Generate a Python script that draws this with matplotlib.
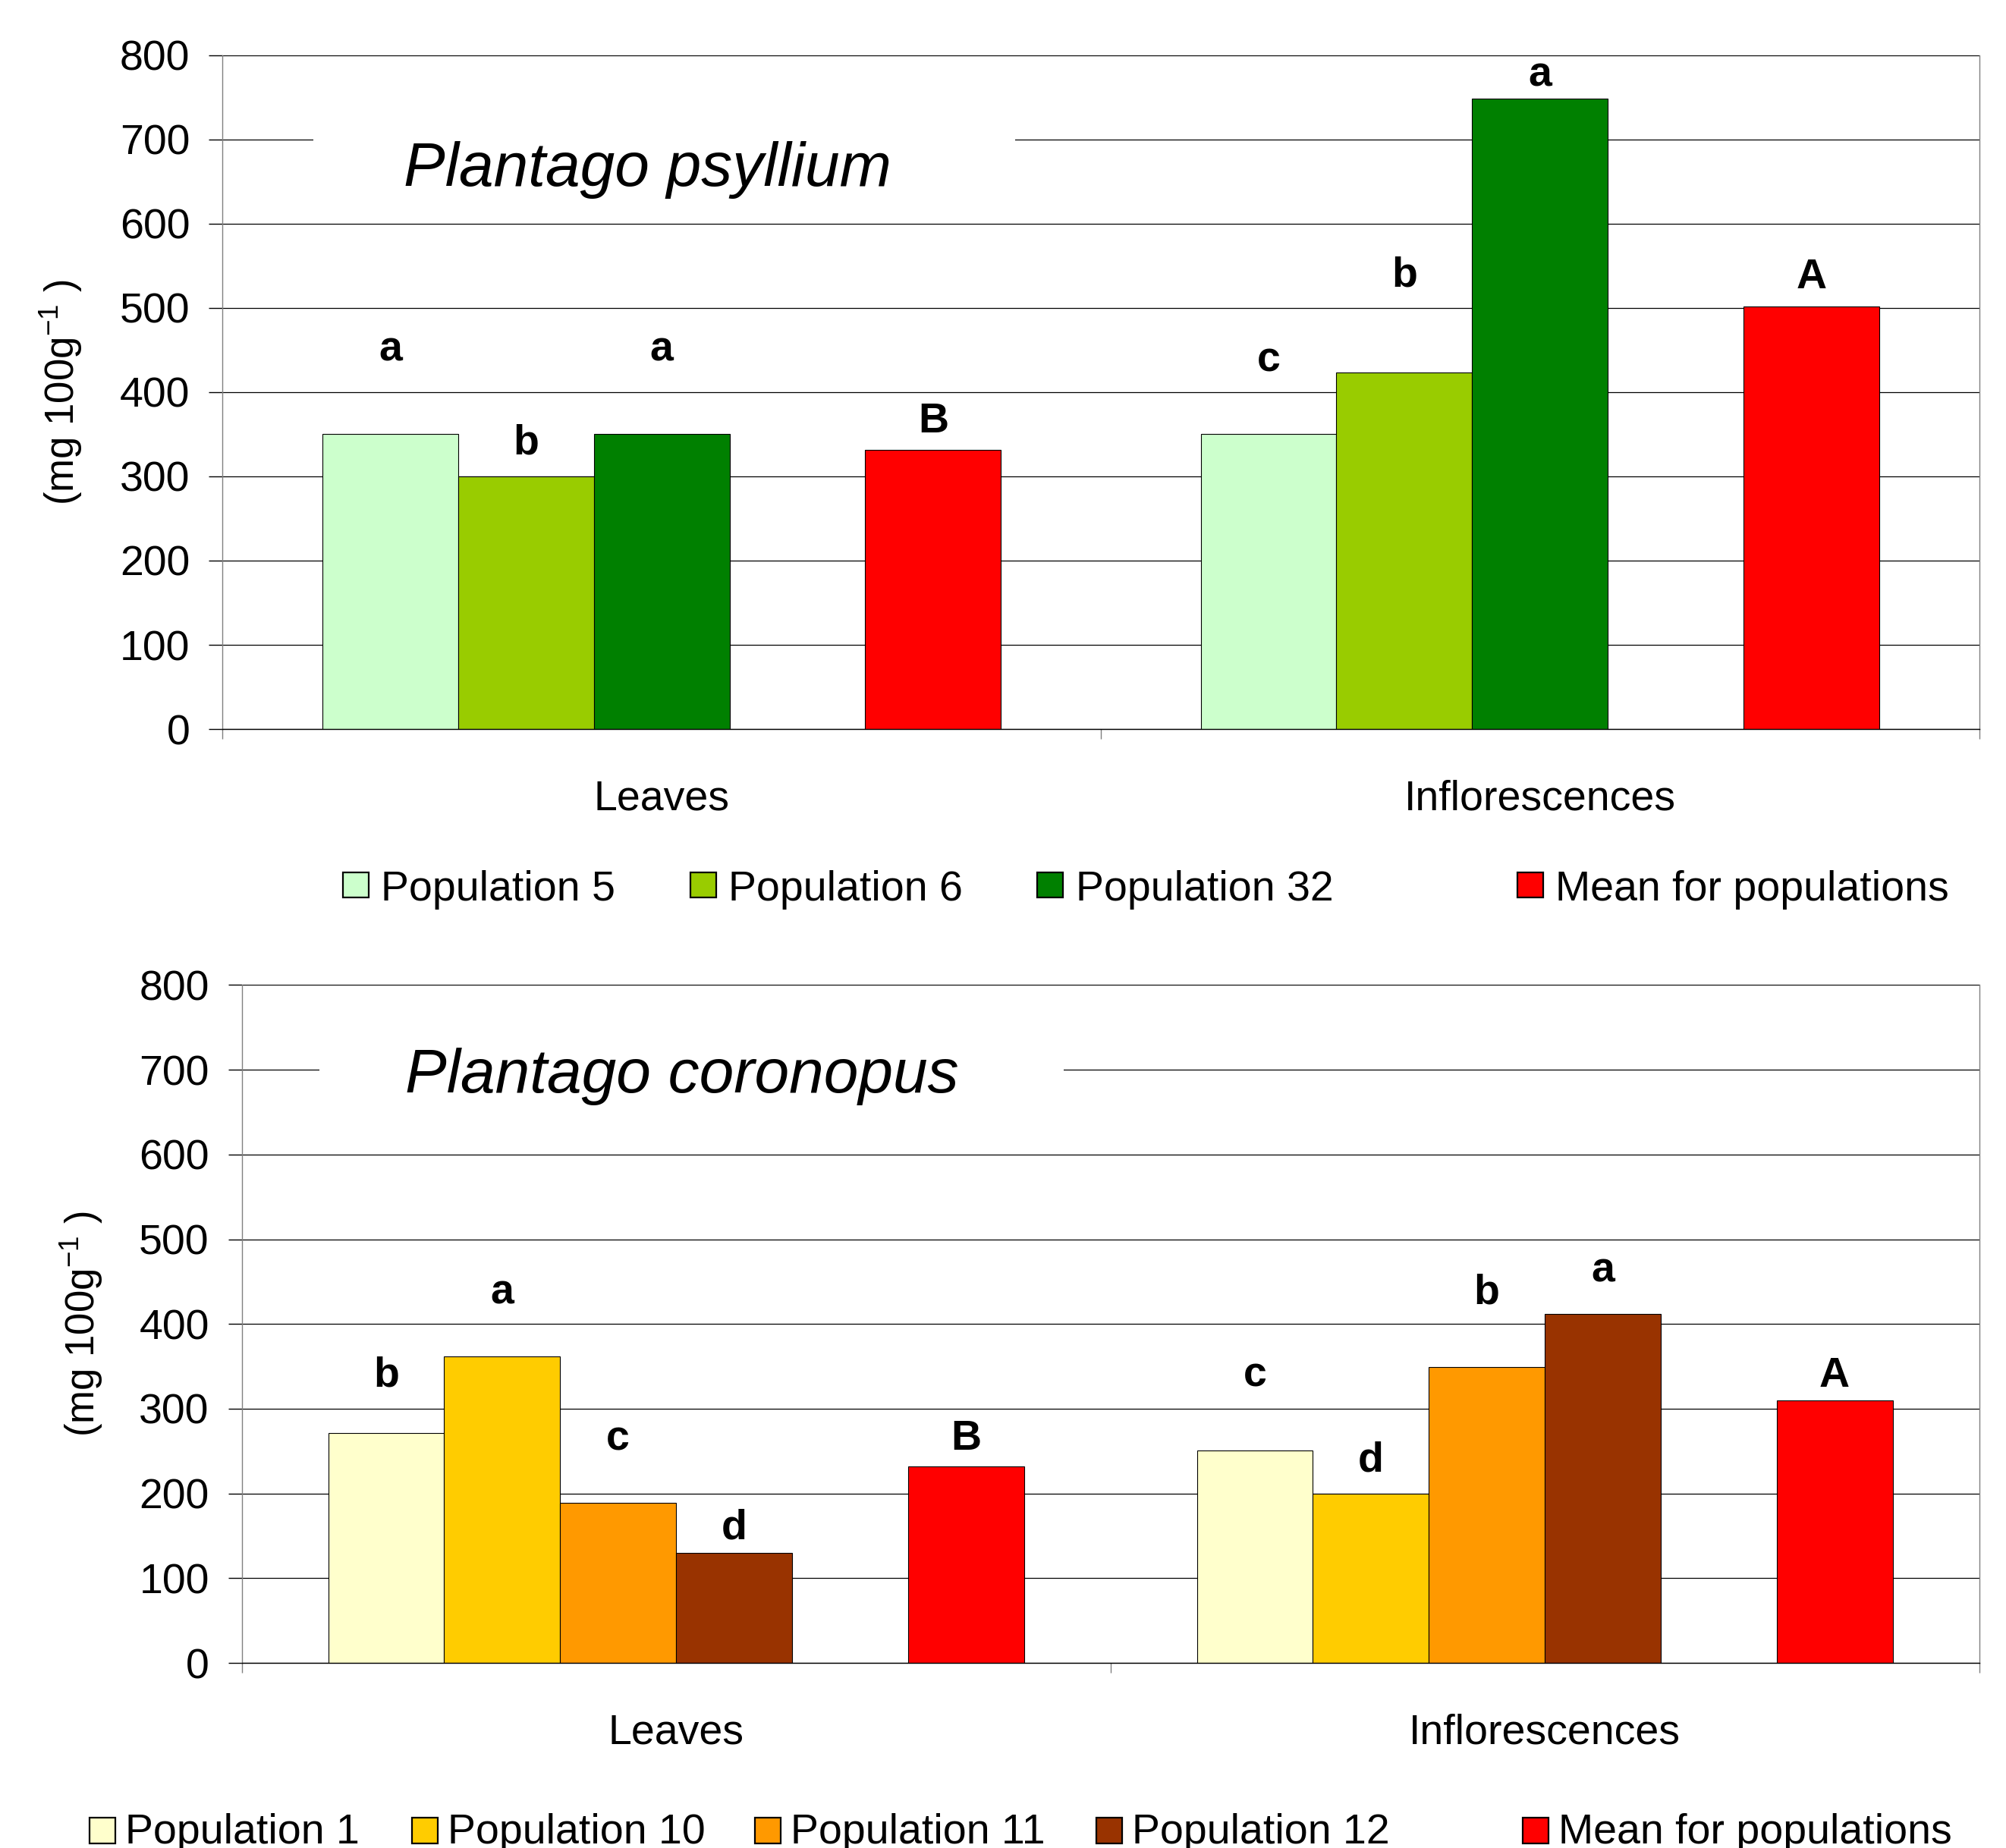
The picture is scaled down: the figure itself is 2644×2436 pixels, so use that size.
import matplotlib
matplotlib.use('Agg')
import matplotlib.pyplot as plt
from matplotlib.patches import Rectangle
import matplotlib.transforms as mtransforms

plt.rcParams['font.family'] = ['Liberation Sans', 'DejaVu Sans']
plt.rcParams['mathtext.fontset'] = 'custom'
plt.rcParams['mathtext.rm'] = 'Liberation Sans'
plt.rcParams['mathtext.it'] = 'Liberation Sans:italic'
plt.rcParams['mathtext.bf'] = 'Liberation Sans:bold'

# ---------------- data ----------------
categories = ['Leaves', 'Inflorescences']
y_ticks = [0, 100, 200, 300, 400, 500, 600, 700, 800]
y_label = '(mg 100g$^{\\mathregular{-1}}$ )'

# Plantago psyllium
ps_title = 'Plantago psyllium'
ps_series = ['Population 5', 'Population 6', 'Population 32', 'Mean for populations']
ps_pop5 = [350, 350]
ps_pop6 = [300, 423]
ps_pop32 = [350, 748]
ps_mean = [331, 502]
ps_letters_pop5 = ['a', 'c']
ps_letters_pop6 = ['b', 'b']
ps_letters_pop32 = ['a', 'a']
ps_letters_mean = ['B', 'A']
ps_colors = ['#CCFFCC', '#99CC00', '#008000', '#FF0000']

# Plantago coronopus
pc_title = 'Plantago coronopus'
pc_series = ['Population 1', 'Population 10', 'Population 11', 'Population 12', 'Mean for populations']
pc_pop1 = [271, 251]
pc_pop10 = [362, 200]
pc_pop11 = [189, 349]
pc_pop12 = [130, 412]
pc_mean = [232, 310]
pc_letters_pop1 = ['b', 'c']
pc_letters_pop10 = ['a', 'd']
pc_letters_pop11 = ['c', 'b']
pc_letters_pop12 = ['d', 'a']
pc_letters_mean = ['B', 'A']
pc_colors = ['#FFFFCC', '#FFCC00', '#FF9900', '#993300', '#FF0000']

# ---------------- layout (annotation placement, px, fractions) ----------------
ps_letter_y = [[437, 425], [326, 525], [437, 763], [352, 523]]
pc_letter_y = [[326, 326], [424, 226], [251, 424], [146, 450], [252, 326]]

W, H, DPI = 2644, 2436, 100
fig = plt.figure(figsize=(W / DPI, H / DPI), dpi=DPI)
fig.patch.set_facecolor('white')


def px_axes(left, top, right, bottom):
    return [left / W, 1 - bottom / H, (right - left) / W, (bottom - top) / H]


def style_axes(ax):
    ax.set_xlim(0, 2)
    ax.set_ylim(0, 800)
    ax.set_yticks(y_ticks)
    ax.set_yticklabels([str(v) for v in y_ticks], fontsize=40)
    ax.set_xticks([0, 1, 2])
    ax.set_xticklabels([])
    ax.tick_params(axis='y', direction='out', length=13, width=1.0, pad=18, colors='black')
    ax.tick_params(axis='x', direction='out', length=9, width=1.0, color='#808080')
    ax.yaxis.grid(True, color='black', linewidth=0.9)
    ax.set_axisbelow(True)
    ax.spines['top'].set_visible(False)
    ax.spines['left'].set_color('#808080')
    ax.spines['right'].set_color('#808080')
    ax.spines['left'].set_linewidth(1.0)
    ax.spines['right'].set_linewidth(1.0)
    ax.spines['bottom'].set_color('black')
    ax.spines['bottom'].set_linewidth(1.0)


def draw_panel(ax, series_vals, colors, slots, width, letters, letter_y,
               title, title_x, title_y, box_x0, box_x1, cat_label_off, ylabel_xy):
    style_axes(ax)
    for vals, col, slot, lets, ly in zip(series_vals, colors, slots, letters, letter_y):
        xs = [c + 0.5 + slot * width for c in range(len(categories))]
        ax.bar(xs, vals, width=width, color=col, edgecolor='black', linewidth=0.8, zorder=2)
        for x, l, yy in zip(xs, lets, ly):
            ax.text(x, yy, l, ha='center', va='baseline', fontsize=40,
                    fontweight='bold', zorder=4)
    # title with white background box over gridline
    ax.add_patch(Rectangle((box_x0, 0.825), box_x1 - box_x0, 0.1, transform=ax.transAxes,
                           facecolor='white', edgecolor='none', zorder=0.8))
    ax.text(title_x, title_y, title, transform=mtransforms.blended_transform_factory(ax.transAxes, ax.transData),
            fontsize=59, style='italic', ha='left', va='baseline', zorder=4)
    # category labels
    for c, name in enumerate(categories):
        ax.text(c + 0.5, cat_label_off, name, transform=ax.get_xaxis_transform(),
                ha='center', va='baseline', fontsize=40)
    fig.text(ylabel_xy[0] / W, 1 - ylabel_xy[1] / H, y_label, rotation=90,
             ha='center', va='center', fontsize=38)


def draw_legend(labels, colors, sq_lefts, sq_top, sq_bot, baseline, text_gap):
    for lab, col, x in zip(labels, colors, sq_lefts):
        fig.add_artist(Rectangle((x / W, 1 - sq_bot / H), 34 / W, (sq_bot - sq_top) / H,
                                 transform=fig.transFigure, facecolor=col,
                                 edgecolor='black', linewidth=1.6))
        fig.text((x + text_gap) / W, 1 - baseline / H, lab, ha='left', va='baseline', fontsize=40)


# ---------------- top panel ----------------
ax1 = fig.add_axes(px_axes(293.4, 72.5, 2608.5, 961.1))
draw_panel(ax1, [ps_pop5, ps_pop6, ps_pop32, ps_mean], ps_colors, [-2, -1, 0, 2], 0.1545,
           [ps_letters_pop5, ps_letters_pop6, ps_letters_pop32, ps_letters_mean], ps_letter_y,
           ps_title, 0.103, 644.5, 0.0517, 0.451, -0.1195, (81, 516.8))
draw_legend(ps_series, ps_colors, [452, 910.5, 1367.5, 2000], 1150, 1183, 1186.7, 50)

# ---------------- bottom panel ----------------
ax2 = fig.add_axes(px_axes(318.7, 1298.4, 2608.5, 2192.1))
draw_panel(ax2, [pc_pop1, pc_pop10, pc_pop11, pc_pop12, pc_mean], pc_colors,
           [-2.5, -1.5, -0.5, 0.5, 2.5], 0.1335,
           [pc_letters_pop1, pc_letters_pop10, pc_letters_pop11, pc_letters_pop12, pc_letters_mean],
           pc_letter_y, pc_title, 0.094, 672.9, 0.0445, 0.473, -0.1186, (107.5, 1745))
draw_legend(pc_series, pc_colors, [118, 543, 995, 1445, 2006.6], 2396, 2430, 2430, 47)

fig.savefig('out.png', dpi=DPI, facecolor='white')
